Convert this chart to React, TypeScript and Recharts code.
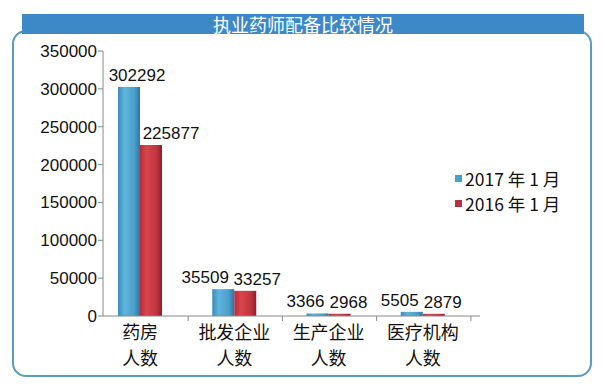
import React from 'react';
import { BarChart, Bar, XAxis, YAxis, Legend, LabelList } from 'recharts';

const categories = ['药房|人数', '批发企业|人数', '生产企业|人数', '医疗机构|人数'];
const values2017 = [302292, 35509, 3366, 5505];
const values2016 = [225877, 33257, 2968, 2879];
const yTicks = [0, 50000, 100000, 150000, 200000, 250000, 300000, 350000];
const seriesNames = ['2017 年 1 月', '2016 年 1 月'];

const data = categories.map((c, i) => ({ name: c, a: values2017[i], b: values2016[i] }));

const numFont = '"Liberation Sans", Arial, sans-serif';
const cjkFont = '"Noto Sans CJK SC", "Liberation Sans", sans-serif';

// label nudges so neighbouring values don't collide (like the original)
const shiftA = [8, -18, -12, -12];
const shiftB = [20, 12, 9, 9];

const CatTick = (props: any) => {
  const { x, y, payload } = props;
  const lines = String(payload.value).split('|');
  return (
    <g>
      <line x1={x + 48} y1={y - 8} x2={x + 48} y2={y - 3} stroke="#888" />
      {lines.map((l, i) => (
        <text key={i} x={x} y={y + 15 + i * 26} textAnchor="middle" fontSize={18} fontFamily={cjkFont} fill="#111">
          {l}
        </text>
      ))}
    </g>
  );
};

const makeLabel = (shift: number[]) => (props: any) => {
  const { x, y, width, value, index } = props;
  return (
    <text x={x + width / 2 + shift[index]} y={y - 6} textAnchor="middle" fontSize={17} fontFamily={numFont} fill="#111">
      {value}
    </text>
  );
};

const LegendBox = () => (
  <div style={{ fontFamily: cjkFont, fontSize: 17.5, color: '#111', lineHeight: '25px' }}>
    {seriesNames.map((n, i) => (
      <div key={n} style={{ display: 'flex', alignItems: 'center' }}>
        <span style={{ display: 'inline-block', width: 7, height: 7, marginRight: 3, background: i === 0 ? '#4a9fc8' : '#b8303c' }} />
        {n}
      </div>
    ))}
  </div>
);

export default function App() {
  return (
    <div style={{ position: 'absolute', left: 0, top: 0, width: 604, height: 385, background: '#fff', overflow: 'hidden' }}>
      <div style={{ position: 'absolute', left: 12, top: 30, width: 576, height: 343, border: '2.5px solid #5b9bc0', borderRadius: 14 }} />
      <div style={{ position: 'absolute', left: 22, top: 14, width: 562, height: 20, background: '#3d88c6', color: '#fff', fontFamily: cjkFont, fontSize: 18, lineHeight: '20px', textAlign: 'center' }}>
        执业药师配备比较情况
      </div>
      <div style={{ position: 'absolute', left: 0, top: 0 }}>
        <BarChart width={604} height={385} data={data} margin={{ top: 51, right: 124, bottom: 9, left: 8 }} barGap={0} barSize={22}>
          <defs>
            <linearGradient id="gBlue" x1="0" y1="0" x2="1" y2="0">
              <stop offset="0%" stopColor="#3b8dbd" />
              <stop offset="30%" stopColor="#5fb4dc" />
              <stop offset="75%" stopColor="#4a9fcb" />
              <stop offset="100%" stopColor="#2c75a2" />
            </linearGradient>
            <linearGradient id="gRed" x1="0" y1="0" x2="1" y2="0">
              <stop offset="0%" stopColor="#b92e3a" />
              <stop offset="30%" stopColor="#d8454d" />
              <stop offset="75%" stopColor="#c0343e" />
              <stop offset="100%" stopColor="#8e1d28" />
            </linearGradient>
          </defs>
          <XAxis dataKey="name" height={60} tick={<CatTick />} tickLine={false} axisLine={{ stroke: '#888' }} interval={0} padding={{ left: -10, right: 10 }} />
          <YAxis width={95} domain={[0, 350000]} ticks={yTicks} interval={0} tick={{ fontSize: 17, fontFamily: numFont, fill: '#111' }} tickSize={5} tickLine={{ stroke: '#888' }} axisLine={{ stroke: '#888' }} tickMargin={1} />
          <Legend layout="vertical" align="center" verticalAlign="middle" wrapperStyle={{ left: 455, top: 166, width: 145 }} content={<LegendBox />} />
          <Bar dataKey="a" name={seriesNames[0]} fill="url(#gBlue)" isAnimationActive={false}>
            <LabelList dataKey="a" content={makeLabel(shiftA)} />
          </Bar>
          <Bar dataKey="b" name={seriesNames[1]} fill="url(#gRed)" isAnimationActive={false}>
            <LabelList dataKey="b" content={makeLabel(shiftB)} />
          </Bar>
        </BarChart>
      </div>
    </div>
  );
}
